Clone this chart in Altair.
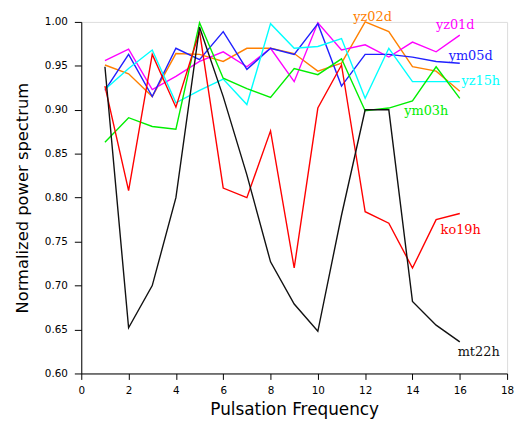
import altair as alt
import pandas as pd

freq = list(range(1, 17))
series_names = ["yz02d", "yz01d", "ym05d", "yz15h", "ym03h", "ko19h", "mt22h"]
series_colors = ["#ff8000", "#ff00ff", "#2020ff", "#00ffff", "#00ee00", "#ff0000", "#111111"]

yz02d = [0.951, 0.941, 0.915, 0.964, 0.963, 0.955, 0.970, 0.970, 0.964, 0.944, 0.953, 1.000, 0.989, 0.949, 0.944, 0.921]
yz01d = [0.956, 0.969, 0.923, 0.938, 0.955, 0.966, 0.949, 0.970, 0.932, 0.999, 0.968, 0.974, 0.960, 0.977, 0.966, 0.985]
ym05d = [0.922, 0.963, 0.915, 0.970, 0.957, 0.989, 0.946, 0.970, 0.963, 0.998, 0.927, 0.963, 0.963, 0.960, 0.955, 0.953]
yz15h = [0.923, 0.947, 0.968, 0.908, 0.922, 0.935, 0.906, 0.998, 0.970, 0.972, 0.981, 0.913, 0.970, 0.932, 0.932, 0.932]
ym03h = [0.863, 0.891, 0.881, 0.878, 0.999, 0.936, 0.924, 0.914, 0.947, 0.940, 0.958, 0.899, 0.902, 0.910, 0.949, 0.913]
ko19h = [0.927, 0.808, 0.963, 0.903, 0.989, 0.811, 0.800, 0.876, 0.720, 0.902, 0.951, 0.784, 0.771, 0.720, 0.775, 0.782]
mt22h = [0.949, 0.652, 0.700, 0.800, 0.994, 0.915, 0.826, 0.727, 0.679, 0.648, 0.780, 0.900, 0.900, 0.682, 0.655, 0.636]

label_x = [11.5, 14.99, 15.53, 16.07, 13.65, 15.19, 15.91]
label_y = [1.006, 0.997, 0.9606, 0.9324, 0.8986, 0.7634, 0.6248]

all_series = [yz02d, yz01d, ym05d, yz15h, ym03h, ko19h, mt22h]
rows = []
for name, vals in zip(series_names, all_series):
    for f, v in zip(freq, vals):
        rows.append({"freq": f, "value": v, "series": name})
df = pd.DataFrame(rows)
labels = pd.DataFrame({"series": series_names, "lx": label_x, "ly": label_y})

color = alt.Color("series:N", scale=alt.Scale(domain=series_names, range=series_colors), legend=None)

x_axis = alt.Axis(
    values=list(range(0, 19)),
    labelExpr="datum.value % 2 === 0 ? datum.label : ''",
    tickSize={"condition": {"test": "datum.value % 2 === 0", "value": 6}, "value": 4},
    title="Pulsation Frequency",
    titleFontSize=17, titleFont="DejaVu Sans", titleFontWeight="normal", titleColor="#000",
    labelFont="DejaVu Sans", labelFontSize=10.5, labelColor="#000",
    domainColor="#000", tickColor="#000", grid=False, labelPadding=6, titlePadding=6,
    labelFlush=False,
)
y_axis = alt.Axis(
    values=[0.6 + 0.025 * i for i in range(17)],
    labelExpr="round(datum.value*1000) % 50 === 0 ? format(datum.value, '.2f') : ''",
    tickSize={"condition": {"test": "round(datum.value*1000) % 50 === 0", "value": 7}, "value": 4},
    title="Normalized power spectrum",
    titleFontSize=16.5, titleFont="DejaVu Sans", titleFontWeight="normal", titleColor="#000",
    labelFont="DejaVu Sans", labelFontSize=10.5, labelColor="#000",
    domainColor="#000", tickColor="#000", grid=False, labelPadding=7, titlePadding=14,
    labelFlush=False,
)

lines = alt.Chart(df).mark_line(strokeWidth=1.4).encode(
    x=alt.X("freq:Q", scale=alt.Scale(domain=[0, 18], nice=False), axis=x_axis),
    y=alt.Y("value:Q", scale=alt.Scale(domain=[0.6, 1.0], nice=False, zero=False), axis=y_axis),
    color=color,
    detail="series:N",
)

texts = alt.Chart(labels).mark_text(
    align="left", baseline="middle", font="DejaVu Serif", fontSize=13, clip=False
).encode(
    x=alt.X("lx:Q"),
    y=alt.Y("ly:Q"),
    text="series:N",
    color=color,
)

chart = alt.layer(lines, texts).properties(
    width=430, height=355,
    autosize=alt.AutoSizeParams(type="none"),
    padding={"left": 74, "top": 12, "right": 10, "bottom": 50},
).configure_view(stroke=None).configure(background="white")

chart.save("out.html", embed_options={"renderer": "svg", "actions": False})
